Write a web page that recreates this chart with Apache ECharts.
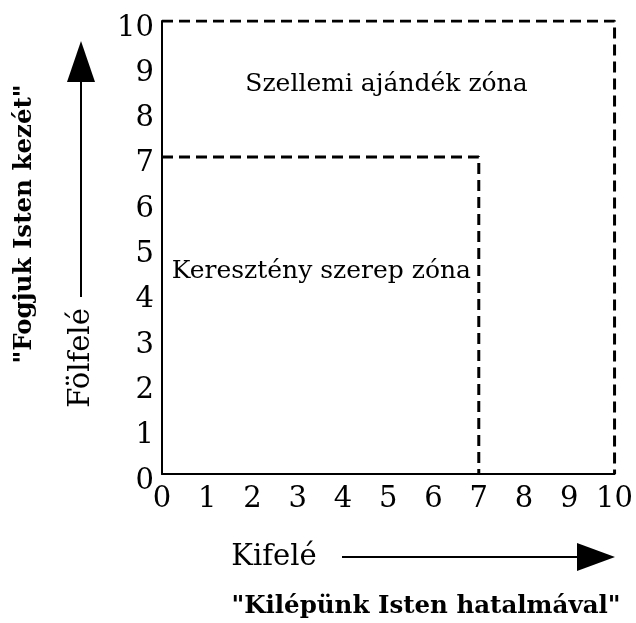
<!DOCTYPE html>
<html><head><meta charset="utf-8">
<script src="https://cdn.jsdelivr.net/npm/echarts@6/dist/echarts.min.js"></script>
<style>html,body{margin:0;padding:0;background:#fff}#c{width:636px;height:623px}</style>
</head><body><div id="c"></div>
<script>
// Data
const xTicks = [0,1,2,3,4,5,6,7,8,9,10];
const yTicks = [0,1,2,3,4,5,6,7,8,9,10];
const innerZone = [[0,7],[7,7],[7,0]];   // Keresztény szerep zóna boundary
const outerZone = [[0,10],[10,10],[10,0]]; // Szellemi ajándék zóna boundary
const zoneLabels = [
  {name:'Szellemi ajándék zóna', value:[4.96,8.6]},
  {name:'Keresztény szerep zóna', value:[3.52,4.48]}
];
const xName = 'Kifelé';
const yName = 'Fölfelé';
const xQuote = '"Kilépünk Isten hatalmával"';
const yQuote = '"Fogjuk Isten kezét"';

const FONT = 'DejaVu Serif';
const chart = echarts.init(document.getElementById('c'), null, {renderer:'canvas'});
const axisCommon = {
  type:'value', min:0, max:10, interval:1,
  axisLine:{show:true, lineStyle:{color:'#000', width:2}},
  axisTick:{show:false},
  splitLine:{show:false},
};
chart.setOption({
  animation:false,
  grid:{left:162, right:20, top:21, bottom:149, containLabel:false},
  xAxis:Object.assign({}, axisCommon, {
    axisLabel:{color:'#000', fontFamily:FONT, fontSize:29, margin:11,
      formatter:v=>String(xTicks[v])}
  }),
  yAxis:Object.assign({}, axisCommon, {
    axisLabel:{color:'#000', fontFamily:FONT, fontSize:29, margin:8,
      verticalAlign:'top', lineHeight:14,
      formatter:v=>String(yTicks[v])}
  }),
  series:[
    {type:'line', data:innerZone, symbol:'none', lineStyle:{color:'#000', width:3, type:[11,6]}},
    {type:'line', data:outerZone, symbol:'none', lineStyle:{color:'#000', width:3, type:[11,6]}},
    {type:'scatter', data:zoneLabels, symbolSize:0, silent:true, itemStyle:{opacity:1},
      label:{show:true, position:'inside', formatter:p=>p.name, color:'#000', opacity:1, fontFamily:FONT, fontSize:25}}
  ],
  graphic:[
    // vertical arrow
    {type:'line', shape:{x1:81,y1:297,x2:81,y2:75}, style:{stroke:'#000', lineWidth:2}},
    {type:'polygon', shape:{points:[[81,41],[67,82],[95,82]]}, style:{fill:'#000'}},
    {type:'text', x:81, y:358, rotation:Math.PI/2,
      style:{text:yName, fill:'#000', fontFamily:FONT, fontSize:29, align:'center', verticalAlign:'middle'}},
    {type:'text', x:25, y:224, rotation:Math.PI/2,
      style:{text:yQuote, fill:'#000', fontFamily:FONT, fontWeight:'bold', fontSize:24.5, align:'center', verticalAlign:'middle'}},
    // horizontal arrow
    {type:'line', shape:{x1:342,y1:557,x2:585,y2:557}, style:{stroke:'#000', lineWidth:2}},
    {type:'polygon', shape:{points:[[615,557],[577,543],[577,571]]}, style:{fill:'#000'}},
    {type:'text', x:274, y:557,
      style:{text:xName, fill:'#000', fontFamily:FONT, fontSize:29, align:'center', verticalAlign:'middle'}},
    {type:'text', x:426, y:607,
      style:{text:xQuote, fill:'#000', fontFamily:FONT, fontWeight:'bold', fontSize:24.5, align:'center', verticalAlign:'middle'}}
  ]
});
</script></body></html>
